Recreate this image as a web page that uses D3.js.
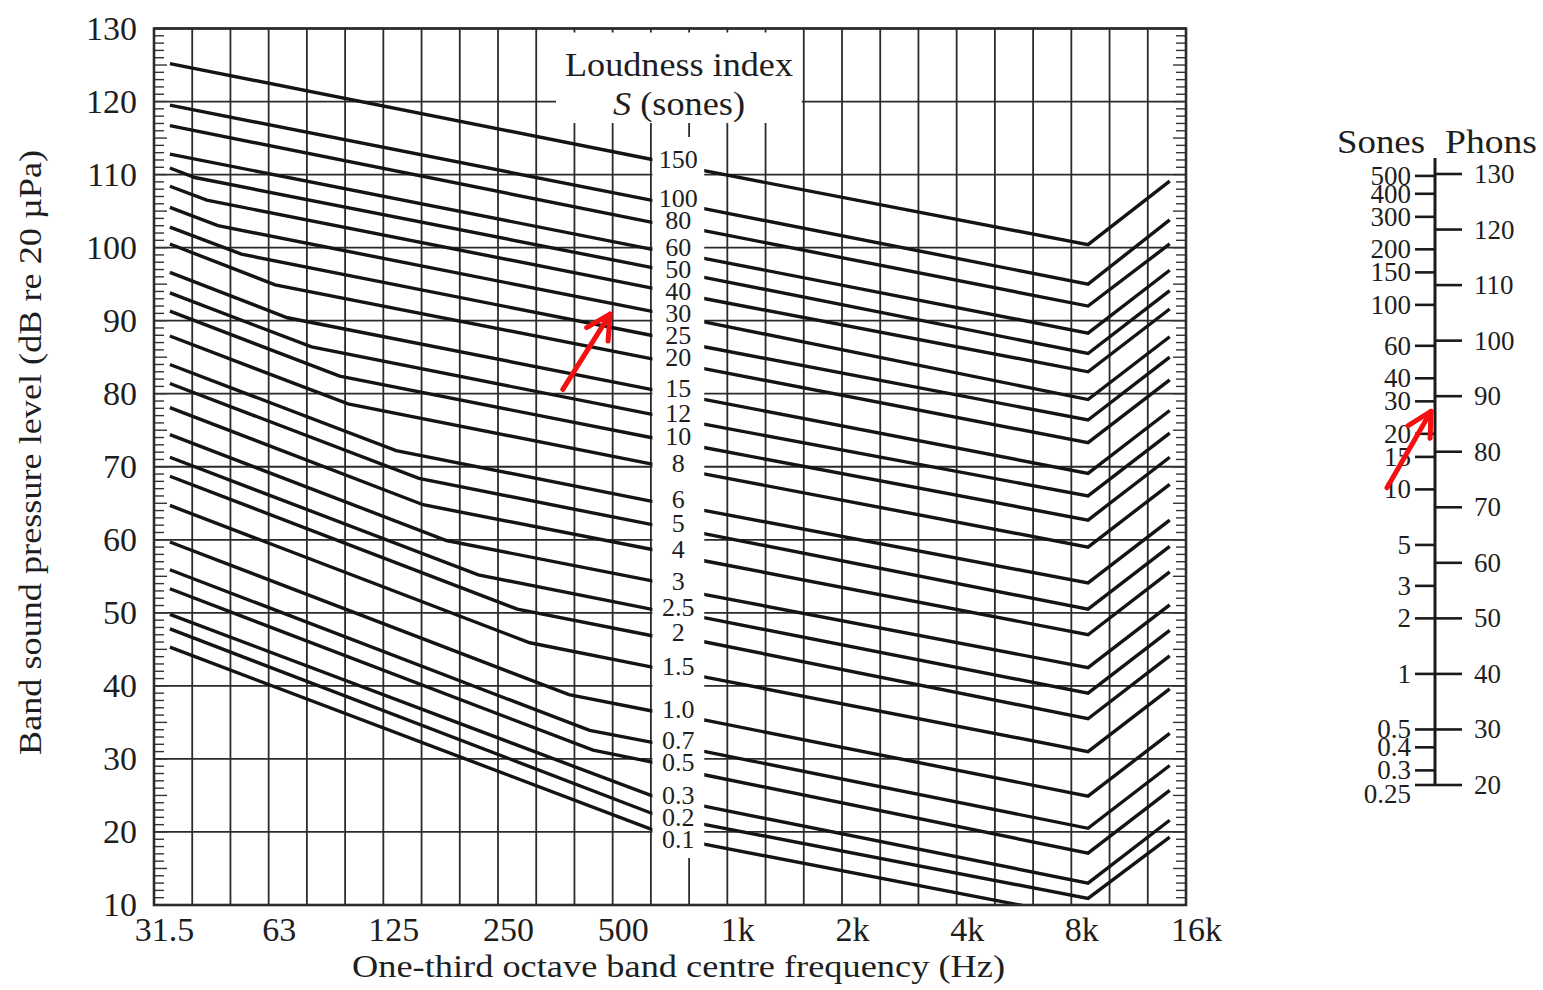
<!DOCTYPE html>
<html>
<head>
<meta charset="utf-8">
<script src="https://cdn.jsdelivr.net/npm/d3@7"></script>
<style>
  body { margin: 0; background: #fff; }
  svg text { font-family: "Liberation Serif", "Times New Roman", serif; fill: #1e1e1e; }
</style>
</head>
<body>
<svg id="chart" width="1543" height="990"></svg>
<script>
// One-third octave band centres, 31.5 Hz to 16 kHz
const bandLabels = ["31.5","40","50","63","80","100","125","160","200","250","315","400","500",
  "630","800","1k","1.25k","1.6k","2k","2.5k","3.15k","4k","5k","6.3k","8k","10k","12.5k","16k"];
const octaveLabels = ["31.5","63","125","250","500","1k","2k","4k","8k","16k"];
const levelTicks = [10,20,30,40,50,60,70,80,90,100,110,120,130];

// Loudness index contours (sones). Each contour is a set of straight segments
// between breakpoints; levels are band SPL in dB.
const sonesLabels = ["150","100","80","60","50","40","30","25","20","15","12","10","8",
  "6","5","4","3","2.5","2","1.5","1.0","0.7","0.5","0.3","0.2","0.1"];
// breakpoint frequencies (Hz) shared by every contour
const fStart = 34.4, fGapLeft = 630, fGapRight = 875, fVertex = 8850, fEnd = 14500;
const startLevel = [125.2,119.5,116.7,112.8,110.9,108.4,105.5,102.8,100.5,96.6,93.8,91.3,87.9,
  84.0,81.4,78.1,74.4,71.3,68.7,64.7,59.7,55.9,53.3,49.8,47.8,45.3];
// low-frequency knee of each contour (null where the contour is straight)
const kneeFreq = [null,null,null,null,40,43,46,53,65,70,81,96,101,
  135,155,159,183,222,281,303,384,435,444,null,null,null];
const kneeLevel = [null,null,null,null,109.6,106.5,103.0,99.1,94.9,90.4,86.4,82.4,78.6,
  72.2,68.4,64.8,59.9,55.2,50.5,45.9,38.8,33.9,31.2,null,null,null];
const levelGapLeft = [112.1,106.5,103.5,99.8,97.3,94.5,91.3,88.0,84.8,80.6,77.2,74.0,70.4,
  65.3,62.1,58.7,54.4,50.5,46.9,42.6,36.6,32.3,29.6,25.0,22.6,20.4];
const levelGapRight = [110.5,105.3,102.3,98.5,95.9,93.0,89.8,86.4,83.4,79.2,75.8,72.6,69.0,
  64.0,60.8,57.1,52.5,49.3,46.0,41.2,35.3,31.0,27.8,23.5,21.0,18.3];
const levelVertex = [100.4,95.0,92.0,88.3,85.5,83.0,79.2,76.4,73.3,69.1,66.0,62.7,59.0,
  54.1,50.5,47.0,42.5,39.0,35.5,31.0,24.9,20.5,17.1,13.0,10.9,8.2];
const levelEnd = [109.1,103.8,100.5,96.9,94.1,91.6,87.8,85.0,81.9,77.7,74.6,71.3,67.6,
  62.7,59.1,55.6,51.1,47.6,44.1,39.6,33.5,29.1,25.7,21.6,19.3,null];

// Sones / phons conversion scale
const soneTicks = [500,400,300,200,150,100,60,40,30,20,15,10,5,3,2,1,0.5,0.4,0.3,0.25];
const phonTicks = [20,30,40,50,60,70,80,90,100,110,120,130];

const svg = d3.select("#chart");
const plot = { left: 154, right: 1186, top: 28.5, bottom: 905 };

const bandFreq = bandLabels.map((_, i) => 31.25 * Math.pow(2, i / 3));
const x = d3.scaleLog().domain([31.25, 16000]).range([plot.left, plot.right]);
const y = d3.scaleLinear().domain([10, 130]).range([plot.bottom, plot.top]);

// ---- grid ----
const grid = svg.append("g").attr("stroke", "#2b2b2b").attr("stroke-width", 1.8);
grid.selectAll("line.v").data(bandFreq).join("line").attr("class", "v")
  .attr("x1", d => x(d)).attr("x2", d => x(d))
  .attr("y1", plot.top).attr("y2", plot.bottom);
grid.selectAll("line.h").data(levelTicks).join("line").attr("class", "h")
  .attr("x1", plot.left).attr("x2", plot.right)
  .attr("y1", d => y(d)).attr("y2", d => y(d));

// 1 dB ticks inside both vertical edges
const minor = svg.append("g").attr("stroke", "#333").attr("stroke-width", 1.4);
const dbSteps = d3.range(10, 131);
minor.selectAll("line.l").data(dbSteps).join("line").attr("class", "l")
  .attr("x1", plot.left).attr("x2", d => plot.left + (d % 5 === 0 ? 13 : 10))
  .attr("y1", d => y(d)).attr("y2", d => y(d));
minor.selectAll("line.r").data(dbSteps).join("line").attr("class", "r")
  .attr("x1", plot.right).attr("x2", d => plot.right - (d % 5 === 0 ? 13 : 10))
  .attr("y1", d => y(d)).attr("y2", d => y(d));

// ---- contours ----
svg.append("clipPath").attr("id", "plotClip").append("rect")
  .attr("x", plot.left).attr("y", plot.top)
  .attr("width", plot.right - plot.left).attr("height", plot.bottom - plot.top);

const contours = sonesLabels.map((s, i) => {
  const pts = [[fStart, startLevel[i]]];
  if (kneeFreq[i] !== null) pts.push([kneeFreq[i], kneeLevel[i]]);
  pts.push([fGapLeft, levelGapLeft[i]], [fGapRight, levelGapRight[i]], [fVertex, levelVertex[i]]);
  if (levelEnd[i] !== null) pts.push([fEnd, levelEnd[i]]);
  return { s, pts, mid: (levelGapLeft[i] + levelGapRight[i]) / 2 };
});

const line = d3.line().x(d => x(d[0])).y(d => y(d[1]));
svg.append("g").attr("clip-path", "url(#plotClip)")
  .selectAll("path").data(contours).join("path")
  .attr("d", d => line(d.pts))
  .attr("fill", "none").attr("stroke", "#141414").attr("stroke-width", 3.4)
  .attr("stroke-linejoin", "miter");

// ---- white panels for the title and the contour labels ----
const labelCol = { left: x(bandFreq[13]) + 1.5, right: x(fGapRight) - 1 };
svg.append("rect").attr("fill", "#fff")
  .attr("x", 556).attr("y", plot.top + 4)
  .attr("width", x(bandFreq[17]) - 2 - 556).attr("height", 123 - plot.top - 4);
svg.append("rect").attr("fill", "#fff")
  .attr("x", labelCol.left).attr("y", 137)
  .attr("width", labelCol.right - labelCol.left).attr("height", 858 - 137);

// frame
svg.append("rect").attr("fill", "none").attr("stroke", "#2b2b2b").attr("stroke-width", 2.6)
  .attr("x", plot.left).attr("y", plot.top)
  .attr("width", plot.right - plot.left).attr("height", plot.bottom - plot.top);

// contour labels: centred on each contour inside the gap, pushed apart where crowded
const labelGap = 22;
const labelY = [];
contours.forEach((d, i) => {
  let ly = y(d.mid) - 6;
  if (i > 0 && ly < labelY[i - 1] + labelGap) ly = labelY[i - 1] + labelGap;
  labelY.push(ly);
});
svg.append("g").attr("font-size", 26).attr("text-anchor", "middle")
  .selectAll("text").data(contours).join("text")
  .attr("x", (labelCol.left + labelCol.right) / 2)
  .attr("y", (d, i) => labelY[i] + 8.6)
  .text(d => d.s);

// title block
const title = svg.append("g").attr("font-size", 33).attr("text-anchor", "middle");
title.append("text").attr("x", 679).attr("y", 76).attr("textLength", 228)
  .attr("lengthAdjust", "spacingAndGlyphs").text("Loudness index");
const t2 = title.append("text").attr("x", 679).attr("y", 115)
  .attr("textLength", 132).attr("lengthAdjust", "spacingAndGlyphs");
t2.append("tspan").attr("font-style", "italic").text("S");
t2.append("tspan").text(" (sones)");

// ---- axes ----
const octaveFreq = octaveLabels.map(l => bandFreq[bandLabels.indexOf(l)]);
const xAxis = svg.append("g").attr("transform", `translate(0,${plot.bottom})`)
  .call(d3.axisBottom(x).tickValues(octaveFreq).tickFormat((d, i) => octaveLabels[i])
    .tickSize(0).tickPadding(12));
xAxis.select(".domain").remove();
xAxis.selectAll("text").attr("font-family", "Liberation Serif").attr("font-size", 34)
  .attr("fill", "#1e1e1e").attr("dx", 10);

const yAxis = svg.append("g").attr("transform", `translate(${plot.left},0)`)
  .call(d3.axisLeft(y).tickValues(levelTicks).tickSize(0).tickPadding(17));
yAxis.select(".domain").remove();
yAxis.selectAll("text").attr("font-family", "Liberation Serif").attr("font-size", 34)
  .attr("fill", "#1e1e1e");

svg.append("text").attr("x", 678.5).attr("y", 977).attr("font-size", 32)
  .attr("text-anchor", "middle").attr("textLength", 653).attr("lengthAdjust", "spacingAndGlyphs")
  .text("One-third octave band centre frequency (Hz)");
svg.append("text").attr("transform", "translate(41,452.5) rotate(-90)").attr("font-size", 32)
  .attr("text-anchor", "middle").attr("textLength", 605).attr("lengthAdjust", "spacingAndGlyphs")
  .text("Band sound pressure level (dB re 20 \u00B5Pa)");

// ---- sones / phons scale ----
const phon = d3.scaleLinear().domain([20, 130]).range([785, 174]);
const sone = d3.scaleLog().base(2).domain([0.25, 512]).range([785, 174]);
const scaleX = 1435;
const nomo = svg.append("g");
nomo.append("line").attr("x1", scaleX).attr("x2", scaleX).attr("y1", 158).attr("y2", phon(20))
  .attr("stroke", "#1a1a1a").attr("stroke-width", 3);
nomo.selectAll("line.s").data(soneTicks).join("line").attr("class", "s")
  .attr("x1", scaleX - 20).attr("x2", scaleX).attr("y1", d => sone(d)).attr("y2", d => sone(d))
  .attr("stroke", "#1a1a1a").attr("stroke-width", 2.6);
nomo.selectAll("line.p").data(phonTicks).join("line").attr("class", "p")
  .attr("x1", scaleX).attr("x2", scaleX + 27).attr("y1", d => phon(d)).attr("y2", d => phon(d))
  .attr("stroke", "#1a1a1a").attr("stroke-width", 2.6);
nomo.selectAll("text.s").data(soneTicks).join("text").attr("class", "s")
  .attr("x", scaleX - 24).attr("y", d => sone(d) + 8.8 + (d === 0.25 ? 9 : 0))
  .attr("text-anchor", "end").attr("font-size", 27).text(d => d);
nomo.selectAll("text.p").data(phonTicks).join("text").attr("class", "p")
  .attr("x", scaleX + 39).attr("y", d => phon(d) + 9)
  .attr("font-size", 27).text(d => d);
nomo.append("text").attr("x", 1381).attr("y", 153).attr("font-size", 33).attr("text-anchor", "middle")
  .attr("textLength", 88).attr("lengthAdjust", "spacingAndGlyphs").text("Sones");
nomo.append("text").attr("x", 1491).attr("y", 153).attr("font-size", 33).attr("text-anchor", "middle")
  .attr("textLength", 92).attr("lengthAdjust", "spacingAndGlyphs").text("Phons");

// ---- red pointer arrows ----
function arrow(tail, tip) {
  const ang = Math.atan2(tail[1] - tip[1], tail[0] - tip[0]);
  const len = 27, spread = 28 * Math.PI / 180;
  const a1 = [tip[0] + len * Math.cos(ang - spread), tip[1] + len * Math.sin(ang - spread)];
  const a2 = [tip[0] + len * Math.cos(ang + spread), tip[1] + len * Math.sin(ang + spread)];
  const g = svg.append("g").attr("stroke", "#f41010").attr("stroke-width", 5)
    .attr("stroke-linecap", "round").attr("fill", "none");
  g.append("line").attr("x1", tail[0]).attr("y1", tail[1]).attr("x2", tip[0]).attr("y2", tip[1]);
  g.append("path").attr("d", `M${a1}L${tip}L${a2}`).attr("stroke-linejoin", "round");
}
arrow([x(370), y(80.6)], [x(492), y(90.9)]);
arrow([scaleX - 48, sone(10.2)], [scaleX - 4, sone(26.5)]);
</script>
</body>
</html>
